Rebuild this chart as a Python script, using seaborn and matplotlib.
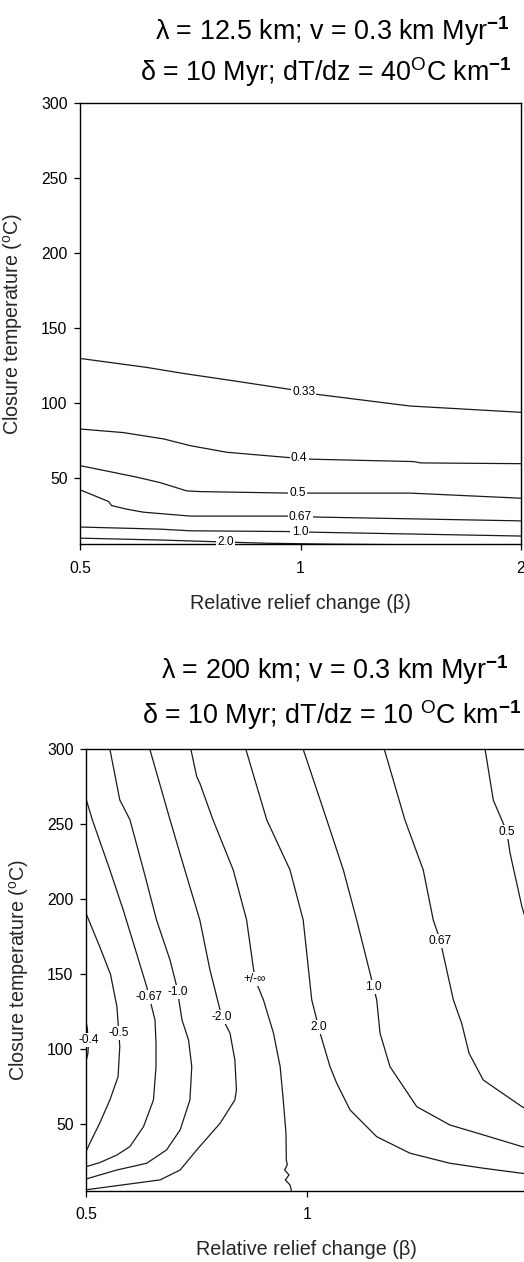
import numpy as np
import matplotlib
matplotlib.use("Agg")
import matplotlib.pyplot as plt
import seaborn as sns
from matplotlib.ticker import FixedLocator, FixedFormatter, NullLocator

# ---- contour data: relative relief change (beta) vs closure temperature (C)
# Upper panel: lambda = 12.5 km, dT/dz = 40 C/km
top_levels = ["0.33", "0.4", "0.5", "0.67", "1.0", "2.0"]
top_beta = [
    [0.5, 0.617, 0.692, 0.81, 0.967, 1.052, 1.411, 2.0],
    [0.5, 0.573, 0.650, 0.707, 0.793, 0.967, 1.03, 1.426, 1.46, 2.0],
    [0.5, 0.549, 0.598, 0.643, 0.699, 0.729, 0.967, 1.41, 2.0],
    [0.5, 0.547, 0.552, 0.579, 0.61, 0.707, 0.958, 1.063, 2.0],
    [0.5, 0.643, 0.707, 0.958, 1.03, 2.0],
    [0.5, 0.65, 0.79, 0.9, 1.1, 1.4],
]
top_tc = [
    [129.7, 123.7, 119.7, 114.8, 109.1, 105.8, 98.0, 93.8],
    [82.7, 80.3, 76.1, 71.6, 67.2, 63.6, 62.6, 61.0, 60.1, 59.6],
    [58.3, 54.3, 50.6, 47.0, 41.5, 41.0, 40.0, 40.0, 36.6],
    [42.2, 34.4, 31.7, 29.3, 27.3, 24.7, 24.7, 24.0, 21.5],
    [17.4, 16.0, 14.9, 14.4, 14.0, 11.4],
    [10.0, 8.7, 7.4, 6.6, 6.0, 5.6],
]

# Lower panel: lambda = 200 km, dT/dz = 10 C/km
bot_levels = ["-0.4", "-0.5", "-0.67", "-1.0", "-2.0", "+/-\u221e",
              "2.0", "1.0", "0.67", "0.5"]
bot_beta = [
    [0.499, 0.502, 0.504, 0.503, 0.500],
    [0.5, 0.522, 0.540, 0.551, 0.556, 0.553, 0.539, 0.522, 0.506, 0.5],
    [0.500, 0.510, 0.539, 0.562, 0.586, 0.605, 0.621, 0.623, 0.623, 0.618,
     0.599, 0.574, 0.551, 0.522, 0.5],
    [0.539, 0.556, 0.574, 0.599, 0.624, 0.651, 0.665, 0.676, 0.690, 0.697,
     0.693, 0.672, 0.644, 0.605, 0.551, 0.5],
    [0.611, 0.651, 0.682, 0.715, 0.738, 0.766, 0.786, 0.798, 0.802, 0.798,
     0.762, 0.708, 0.672, 0.631, 0.5],
    [0.695, 0.708, 0.715, 0.745, 0.794, 0.828, 0.850, 0.873, 0.901, 0.920,
     0.929, 0.937, 0.938, 0.941, 0.933, 0.946, 0.935, 0.949, 0.953],
    [0.826, 0.882, 0.949, 0.989, 1.016, 1.043, 1.076, 1.099, 1.146, 1.246,
     1.383, 1.568, 1.741, 1.966, 2.0],
    [0.989, 1.065, 1.122, 1.170, 1.246, 1.259, 1.299, 1.413, 1.568, 1.741,
     1.966, 2.0],
    [1.276, 1.361, 1.442, 1.488, 1.52, 1.585, 1.627, 1.665, 1.741, 1.966, 2.0],
    [1.751, 1.797, 1.875, 1.894, 1.966, 2.0],
]
bot_tc = [
    [121, 114, 104, 97, 92],
    [190.6, 168.4, 150, 128.4, 101.7, 81.7, 66.2, 50.7, 37.3, 31.7],
    [267, 253, 219.5, 192.9, 164, 141.7, 119.5, 104, 88.4, 66.2,
     48.4, 35.1, 29.5, 24.4, 21.7],
    [300, 266.2, 253, 219.5, 186.2, 159.5, 141.7, 119.5, 106.2, 88.4,
     66.2, 46.2, 32.9, 24, 19.5, 13.5],
    [300, 253, 219.5, 186, 152.9, 121.5, 110.7, 92.9, 72.9, 66.2,
     50.7, 32.9, 19.5, 12.9, 6.3],
    [300, 281.7, 277.3, 253, 219.5, 186.2, 146.7, 132.9, 110.7, 88.4,
     66.2, 44, 26.2, 23, 19.5, 16.2, 12.9, 9.5, 5.7],
    [300, 253, 219.5, 186.2, 132.9, 110.7, 88.4, 77.3, 59.5, 41.7,
     30.7, 24, 20.7, 17.3, 17.0],
    [300, 253, 219.5, 186.2, 132.9, 110.7, 88.4, 61.7, 49.5, 42.9,
     35.1, 34.5],
    [300, 253, 219.5, 186.2, 173, 132.9, 117.3, 97.3, 79.5, 61.7, 60],
    [300, 266, 245, 230.7, 195, 183],
]

x_ticks = [0.5, 1, 2]
x_ticklabels = ["0.5", "1", "2"]
y_ticks = [50, 100, 150, 200, 250, 300]

# ---- styling
sns.set_style("ticks")
plt.rcParams["font.family"] = ["Liberation Sans", "DejaVu Sans"]
plt.rcParams["mathtext.fontset"] = "custom"
plt.rcParams["mathtext.rm"] = "Liberation Sans"
plt.rcParams["mathtext.it"] = "Liberation Sans:italic"
plt.rcParams["mathtext.bf"] = "Liberation Sans:bold"
plt.rcParams["text.color"] = "black"

LINE_C = "#1a1a1a"

fig = plt.figure(figsize=(5.24, 12.62), dpi=100)
ax_top = fig.add_axes([0.1527, 0.5687, 0.8416, 0.3499])
ax_bot = fig.add_axes([0.1641, 0.0565, 0.8424, 0.3498])


def point_on(xs, ys, along, value):
    """First point on a polyline where beta (along='x') or T (along='y') hits value."""
    lx = np.log(np.asarray(xs, float))
    ys = np.asarray(ys, float)
    key = lx if along == "x" else ys
    target = np.log(value) if along == "x" else value
    for i in range(len(key) - 1):
        a, b = key[i], key[i + 1]
        if a != b and (a - target) * (b - target) <= 0:
            t = (target - a) / (b - a)
            return np.exp(lx[i] + t * (lx[i + 1] - lx[i])), ys[i] + t * (ys[i + 1] - ys[i])
    return np.exp(lx[0]), ys[0]


def draw_panel(ax, levels, betas, tcs, label_at, ymin):
    ax.set_xscale("log")
    for lev, b, t, (along, val) in zip(levels, betas, tcs, label_at):
        sns.lineplot(x=b, y=t, sort=False, estimator=None, ax=ax,
                     color=LINE_C, linewidth=0.9, zorder=2)
        px, py = point_on(b, t, along, val)
        ax.text(px, py, lev, ha="center", va="center", fontsize=8.6,
                zorder=3,
                bbox=dict(boxstyle="square,pad=0.1", fc="white", ec="none"))
    ax.set_xlim(0.5, 2.0)
    ax.set_ylim(ymin, 300)
    ax.xaxis.set_major_locator(FixedLocator(x_ticks))
    ax.xaxis.set_major_formatter(FixedFormatter(x_ticklabels))
    ax.xaxis.set_minor_locator(NullLocator())
    ax.yaxis.set_major_locator(FixedLocator(y_ticks))
    ax.yaxis.set_minor_locator(NullLocator())
    ax.tick_params(axis="both", direction="out", length=4, width=0.9,
                   labelsize=11.3, top=False, right=False, colors="black")
    ax.tick_params(axis="x", pad=8)
    ax.tick_params(axis="y", pad=5)
    for sp in ax.spines.values():
        sp.set_visible(True)
        sp.set_linewidth(1.0)
        sp.set_color("black")
    ax.set_xlabel("Relative relief change (\u03b2)", fontsize=14.2)
    ax.set_ylabel(r"Closure temperature ($^{\mathrm{o}}$C)", fontsize=14.2)
    ax.xaxis.set_label_coords(0.5, -0.112)
    ax.yaxis.set_label_coords(-0.124, 0.5)


top_label_at = [("x", 1.01), ("x", 0.996), ("x", 0.99), ("x", 1.0),
                ("x", 0.998), ("x", 0.791)]
bot_label_at = [("y", 106), ("y", 111), ("y", 135), ("y", 138.2),
                ("y", 121.3), ("y", 146.7), ("y", 114.9), ("y", 141.5),
                ("y", 172.2), ("y", 245)]

draw_panel(ax_top, top_levels, top_beta, top_tc, top_label_at, 5.9)
draw_panel(ax_bot, bot_levels, bot_beta, bot_tc, bot_label_at, 5.7)

# ---- panel headings (two lines each)
TS = 19.4
fig.text(332 / 524, 1 - 40 / 1262,
         r"λ = 12.5 km; v = 0.3 km Myr$^{\mathbf{-1}}$",
         ha="center", va="baseline", fontsize=TS)
fig.text(326 / 524, 1 - 81 / 1262,
         r"δ = 10 Myr; dT/dz = 40$^{\mathrm{O}}$C km$^{\mathbf{-1}}$",
         ha="center", va="baseline", fontsize=TS)
fig.text(335 / 524, 1 - 679 / 1262,
         r"λ = 200 km; v = 0.3 km Myr$^{\mathbf{-1}}$",
         ha="center", va="baseline", fontsize=TS)
fig.text(332 / 524, 1 - 724 / 1262,
         r"δ = 10 Myr; dT/dz = 10 $^{\mathrm{O}}$C km$^{\mathbf{-1}}$",
         ha="center", va="baseline", fontsize=TS)

fig.savefig("out.png", dpi=100, facecolor="white")
